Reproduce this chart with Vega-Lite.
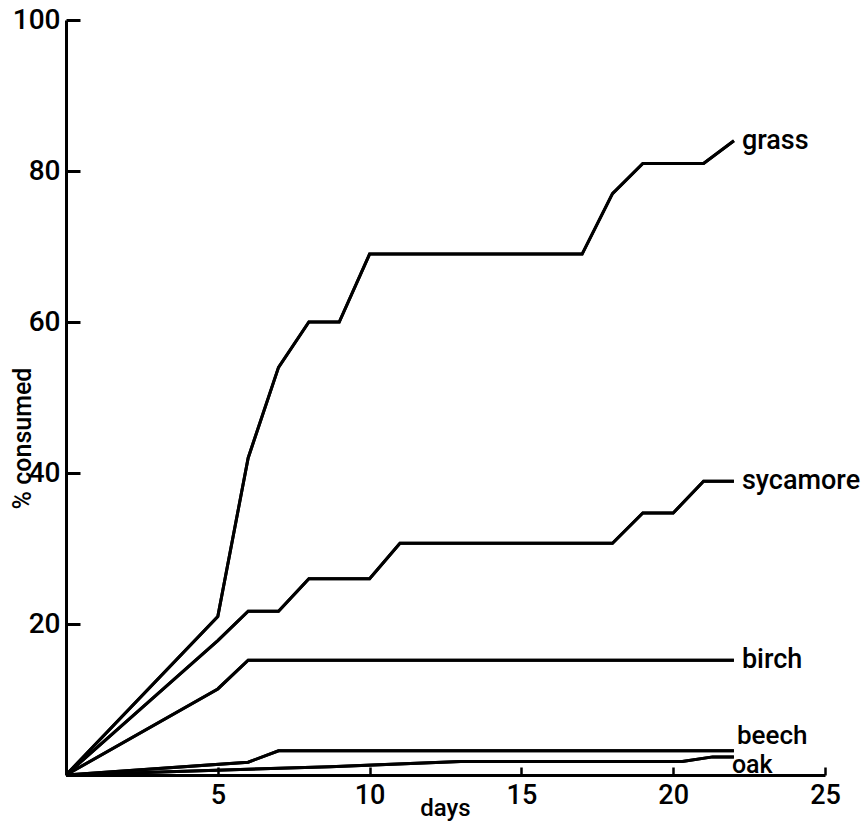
{
  "$schema": "https://vega.github.io/schema/vega-lite/v6.json",
  "width": 759,
  "height": 755,
  "autosize": {"type": "none"},
  "padding": {"left": 66, "top": 20, "right": 41, "bottom": 49},
  "background": "white",
  "config": {"view": {"stroke": null}, "font": "Roboto"},
  "data": {
    "values": [
      {"series": "grass", "day": 0, "value": 0},
      {"series": "grass", "day": 5, "value": 21},
      {"series": "grass", "day": 6, "value": 42},
      {"series": "grass", "day": 7, "value": 54},
      {"series": "grass", "day": 8, "value": 60},
      {"series": "grass", "day": 9, "value": 60},
      {"series": "grass", "day": 10, "value": 69},
      {"series": "grass", "day": 17, "value": 69},
      {"series": "grass", "day": 18, "value": 77},
      {"series": "grass", "day": 19, "value": 81},
      {"series": "grass", "day": 21, "value": 81},
      {"series": "grass", "day": 22, "value": 84},
      {"series": "sycamore", "day": 0, "value": 0},
      {"series": "sycamore", "day": 5, "value": 17.8},
      {"series": "sycamore", "day": 6, "value": 21.7},
      {"series": "sycamore", "day": 7, "value": 21.7},
      {"series": "sycamore", "day": 8, "value": 26},
      {"series": "sycamore", "day": 10, "value": 26},
      {"series": "sycamore", "day": 11, "value": 30.7},
      {"series": "sycamore", "day": 18, "value": 30.7},
      {"series": "sycamore", "day": 19, "value": 34.7},
      {"series": "sycamore", "day": 20, "value": 34.7},
      {"series": "sycamore", "day": 21, "value": 38.9},
      {"series": "sycamore", "day": 22, "value": 38.9},
      {"series": "birch", "day": 0, "value": 0},
      {"series": "birch", "day": 5, "value": 11.4},
      {"series": "birch", "day": 6, "value": 15.2},
      {"series": "birch", "day": 22, "value": 15.2},
      {"series": "beech", "day": 0, "value": 0},
      {"series": "beech", "day": 6, "value": 1.7},
      {"series": "beech", "day": 7, "value": 3.2},
      {"series": "beech", "day": 22, "value": 3.2},
      {"series": "oak", "day": 0, "value": 0},
      {"series": "oak", "day": 8.7, "value": 1.1},
      {"series": "oak", "day": 13, "value": 1.8},
      {"series": "oak", "day": 20.3, "value": 1.8},
      {"series": "oak", "day": 21.3, "value": 2.4},
      {"series": "oak", "day": 22, "value": 2.4}
    ]
  },
  "resolve": {"axis": {"x": "independent", "y": "independent"}},
  "layer": [
    {
      "mark": {"type": "line", "color": "black", "strokeWidth": 3},
      "encoding": {
        "x": {
          "field": "day",
          "type": "quantitative",
          "scale": {"domain": [0, 25], "nice": false, "zero": false},
          "axis": {
            "orient": "bottom",
            "values": [5, 10, 15, 20, 25],
            "grid": false,
            "ticks": false,
            "domainColor": "black",
            "domainWidth": 3,
            "labelFontSize": 27,
            "labelFontWeight": 500,
            "labelColor": "black",
            "labelPadding": 7,
            "labelFlush": false,
            "title": "days",
            "titleFontSize": 24,
            "titleFontWeight": 500,
            "titleColor": "black",
            "titleX": 379,
            "titleY": 40,
            "titleAlign": "center",
            "titleBaseline": "alphabetic"
          }
        },
        "y": {
          "field": "value",
          "type": "quantitative",
          "scale": {"domain": [0, 100], "nice": false},
          "axis": {
            "orient": "left",
            "values": [20, 40, 60, 80, 100],
            "grid": false,
            "ticks": false,
            "domainColor": "black",
            "domainWidth": 3,
            "labelFontSize": 28,
            "labelFontWeight": 500,
            "labelColor": "black",
            "labelPadding": 6,
            "labelFlush": false,
            "title": "% consumed",
            "titleFontSize": 25,
            "titleFontWeight": 500,
            "titleColor": "black",
            "titleAngle": -90,
            "titleX": -44,
            "titleY": 418,
            "titleAlign": "center",
            "titleBaseline": "middle"
          }
        },
        "detail": {"field": "series"}
      }
    },
    {
      "mark": {"type": "line", "color": "black", "strokeWidth": 3},
      "encoding": {
        "x": {
          "field": "day",
          "type": "quantitative",
          "scale": {"domain": [0, 25], "nice": false, "zero": false},
          "axis": {
            "orient": "top",
            "offset": -755,
            "values": [5, 10, 15, 20, 25],
            "grid": false,
            "domain": false,
            "labels": false,
            "title": null,
            "ticks": true,
            "tickSize": 8,
            "tickWidth": 2.5,
            "tickColor": "black"
          }
        },
        "y": {
          "field": "value",
          "type": "quantitative",
          "scale": {"domain": [0, 100], "nice": false},
          "axis": {
            "orient": "right",
            "offset": -759,
            "values": [20, 40, 60, 80, 100],
            "grid": false,
            "domain": false,
            "labels": false,
            "title": null,
            "ticks": true,
            "tickSize": 14,
            "tickWidth": 3,
            "tickColor": "black"
          }
        },
        "detail": {"field": "series"}
      }
    },
    {
      "transform": [{"filter": "datum.day == 22 && datum.series != 'beech' && datum.series != 'oak'"}],
      "mark": {"type": "text", "align": "left", "baseline": "middle", "dx": 8, "fontSize": 27, "fontWeight": 500, "color": "black"},
      "encoding": {
        "x": {"field": "day", "type": "quantitative", "axis": null},
        "y": {"field": "value", "type": "quantitative", "axis": null},
        "text": {"field": "series"}
      }
    },
    {
      "transform": [{"filter": "datum.day == 22 && datum.series == 'beech'"}],
      "mark": {"type": "text", "align": "left", "baseline": "middle", "dx": 3, "dy": -15, "fontSize": 26, "fontWeight": 500, "color": "black"},
      "encoding": {
        "x": {"field": "day", "type": "quantitative", "axis": null},
        "y": {"field": "value", "type": "quantitative", "axis": null},
        "text": {"field": "series"}
      }
    },
    {
      "transform": [{"filter": "datum.day == 22 && datum.series == 'oak'"}],
      "mark": {"type": "text", "align": "left", "baseline": "middle", "dx": -2, "dy": 8, "fontSize": 25, "fontWeight": 500, "color": "black"},
      "encoding": {
        "x": {"field": "day", "type": "quantitative", "axis": null},
        "y": {"field": "value", "type": "quantitative", "axis": null},
        "text": {"field": "series"}
      }
    }
  ]
}
